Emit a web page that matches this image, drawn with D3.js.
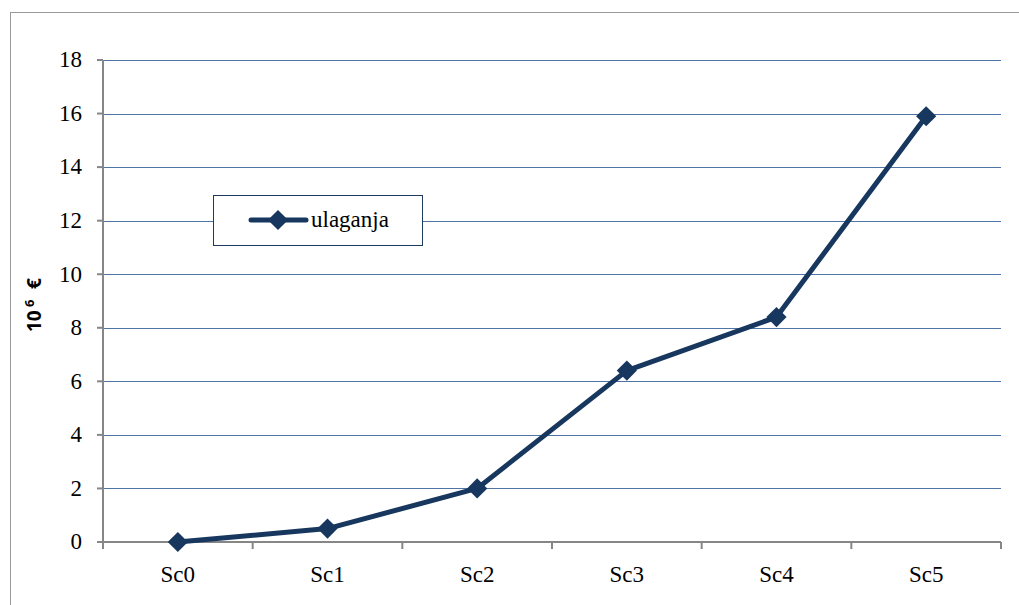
<!DOCTYPE html>
<html>
<head>
<meta charset="utf-8">
<script src="https://cdn.jsdelivr.net/npm/d3@7"></script>
<style>
  body { margin: 0; background: #fff; }
  svg { display: block; }
</style>
</head>
<body>
<div id="chart"></div>
<script>
// chart data
const scenarios = ["Sc0", "Sc1", "Sc2", "Sc3", "Sc4", "Sc5"];
const ulaganja = [0, 0.5, 2.0, 6.4, 8.4, 15.9];
const yTicks = [0, 2, 4, 6, 8, 10, 12, 14, 16, 18];
const seriesName = "ulaganja";

const W = 1019, H = 605;
const margin = { top: 60, right: 18, bottom: 63, left: 103 };
const width = W - margin.left - margin.right,
      height = H - margin.top - margin.bottom;

const navy = "#17375e";

let svg = d3.select("#chart").append("svg")
    .attr("width", W)
    .attr("height", H);

// outer chart border
svg.append("rect")
    .attr("x", 10.5).attr("y", 12.5)
    .attr("width", W + 20).attr("height", H + 20)
    .attr("fill", "none")
    .attr("stroke", "#9a9a9a")
    .attr("stroke-width", 1);

let g = svg.append("g")
    .attr("transform", `translate(${margin.left},${margin.top})`);

let x = d3.scaleBand().domain(scenarios).range([0, width]);
let y = d3.scaleLinear().domain([0, 18]).range([height, 0]);

// gridlines
g.selectAll(".grid")
    .data(yTicks.filter(d => d > 0))
    .join("line")
    .attr("class", "grid")
    .attr("x1", 0).attr("x2", width)
    .attr("y1", d => Math.round(y(d)) + 0.5)
    .attr("y2", d => Math.round(y(d)) + 0.5)
    .attr("stroke", "#4f74a6")
    .attr("stroke-width", 1);

// y axis (drawn by hand so no axis font defaults get in)
let yAxis = g.append("g");
yAxis.append("line")
    .attr("x1", 0).attr("x2", 0)
    .attr("y1", 0).attr("y2", height)
    .attr("stroke", "#868686").attr("stroke-width", 2);
yAxis.selectAll(".yt")
    .data(yTicks)
    .join("line")
    .attr("x1", -6).attr("x2", 0)
    .attr("y1", d => y(d)).attr("y2", d => y(d))
    .attr("stroke", "#868686").attr("stroke-width", 2);
yAxis.selectAll(".yl")
    .data(yTicks)
    .join("text")
    .attr("x", -21)
    .attr("y", d => y(d))
    .attr("dy", "0.32em")
    .attr("text-anchor", "end")
    .attr("font-family", "Liberation Serif")
    .attr("font-size", 23)
    .text(d => d);

// x axis with ticks at category boundaries
let xAxis = g.append("g")
    .attr("transform", `translate(0,${height})`);
xAxis.append("line")
    .attr("x1", 0).attr("x2", width)
    .attr("y1", 0).attr("y2", 0)
    .attr("stroke", "#868686").attr("stroke-width", 2);
let bounds = scenarios.map(s => x(s)).concat([width]);
xAxis.selectAll(".xt")
    .data(bounds)
    .join("line")
    .attr("class", "xt")
    .attr("x1", d => d).attr("x2", d => d)
    .attr("y1", 0).attr("y2", 7)
    .attr("stroke", "#868686").attr("stroke-width", 2);
xAxis.selectAll(".xl")
    .data(scenarios)
    .join("text")
    .attr("class", "xl")
    .attr("x", d => x(d) + x.bandwidth() / 2)
    .attr("y", 40)
    .attr("text-anchor", "middle")
    .attr("font-family", "Liberation Serif")
    .attr("font-size", 23)
    .text(d => d);

// y axis title: 10^6 €, pieces as separate texts
let yt = svg.append("g")
    .attr("transform", "translate(41,301) rotate(-90)")
    .attr("font-family", "Open Sans")
    .attr("font-weight", "bold");
yt.append("text").attr("x", -31).attr("font-size", 19).text("10");
yt.append("text").attr("x", -6).attr("y", -7).attr("font-size", 13).text("6");
yt.append("text").attr("x", 12).attr("font-size", 19).text("€");

// line
let line = d3.line()
    .x((d, i) => x(scenarios[i]) + x.bandwidth() / 2)
    .y(d => y(d));

g.append("path")
    .datum(ulaganja)
    .attr("d", line)
    .attr("fill", "none")
    .attr("stroke", navy)
    .attr("stroke-width", 5)
    .attr("stroke-linejoin", "round")
    .attr("stroke-linecap", "round");

let diamond = d3.symbol().type(d3.symbolDiamond2).size(260);

g.selectAll(".pt")
    .data(ulaganja)
    .join("path")
    .attr("class", "pt")
    .attr("transform", (d, i) => `translate(${x(scenarios[i]) + x.bandwidth() / 2},${y(d)})`)
    .attr("d", diamond)
    .attr("fill", navy);

// legend
let lg = svg.append("g").attr("transform", "translate(213,195)");
lg.append("rect")
    .attr("x", 0.5).attr("y", 0.5)
    .attr("width", 209).attr("height", 50)
    .attr("fill", "#fff")
    .attr("stroke", "#1f3a5f")
    .attr("stroke-width", 1);
lg.append("line")
    .attr("x1", 38).attr("x2", 93)
    .attr("y1", 25).attr("y2", 25)
    .attr("stroke", navy)
    .attr("stroke-width", 5)
    .attr("stroke-linecap", "round");
lg.append("path")
    .attr("transform", "translate(65,25)")
    .attr("d", diamond)
    .attr("fill", navy);
lg.append("text")
    .attr("x", 98).attr("y", 32)
    .attr("font-family", "Liberation Serif")
    .attr("font-size", 23)
    .text(seriesName);
</script>
</body>
</html>
